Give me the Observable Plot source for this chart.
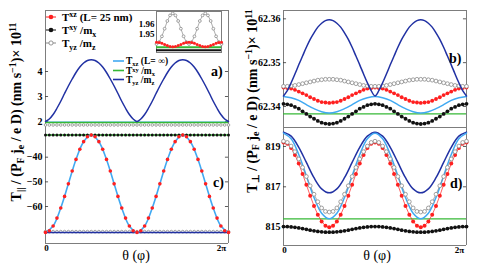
<!DOCTYPE html>
<html><head><meta charset="utf-8">
<script src="https://cdn.jsdelivr.net/npm/d3@7"></script>
<script src="https://cdn.jsdelivr.net/npm/@observablehq/plot@0.6"></script>
<style>body{margin:0;background:#fff}#chart{position:relative;width:485px;height:269px;overflow:hidden}#chart svg{position:absolute;left:0;top:0}</style>
</head><body><div id="chart"></div>
<script>
// angle grids (degrees, 0..2π)
const theta49 = [0,7.5,15,22.5,30,37.5,45,52.5,60,67.5,75,82.5,90,97.5,105,112.5,120,127.5,135,142.5,150,157.5,165,172.5,180,187.5,195,202.5,210,217.5,225,232.5,240,247.5,255,262.5,270,277.5,285,292.5,300,307.5,315,322.5,330,337.5,345,352.5,360];
const theta25 = [0,15,30,45,60,75,90,105,120,135,150,165,180,195,210,225,240,255,270,285,300,315,330,345,360];

// panel a) (T_parallel, upper part)
const aDomain = [1.72, 6.44];
const aTicks = [2,3,4];
const aTickLabels = ["2","3","4"];
const aDarkBlue = [2.00,2.10,2.28,2.53,2.81,3.12,3.42,3.70,3.96,4.18,4.34,4.44,4.47,4.44,4.34,4.18,3.96,3.70,3.42,3.12,2.81,2.53,2.28,2.10,2.00,2.10,2.28,2.53,2.81,3.12,3.42,3.70,3.96,4.18,4.34,4.44,4.47,4.44,4.34,4.18,3.96,3.70,3.42,3.12,2.81,2.53,2.28,2.10,2.00];
const aLightBlue = [1.97];
const aGreen = [1.96];
const aGrey = [1.86,1.86,1.86,1.86,1.86,1.86,1.86,1.86,1.86,1.86,1.86,1.86,1.86,1.86,1.86,1.86,1.86,1.86,1.86,1.86,1.86,1.86,1.86,1.86,1.86,1.86,1.86,1.86,1.86,1.86,1.86,1.86,1.86,1.86,1.86,1.86,1.86,1.86,1.86,1.86,1.86,1.86,1.86,1.86,1.86,1.86,1.86,1.86,1.86];

// inset of a)
const inDomain = [1.9299, 1.9740];
const inTicks = [1.95, 1.96];
const inTickLabels = ["1.95","1.96"];
const inGrey = [1.9390,1.9412,1.9473,1.9555,1.9638,1.9698,1.9720,1.9698,1.9638,1.9555,1.9473,1.9412,1.9390,1.9412,1.9473,1.9555,1.9638,1.9698,1.9720,1.9698,1.9638,1.9555,1.9473,1.9412,1.9390];
const inRed = [1.9410,1.9407,1.9398,1.9385,1.9373,1.9363,1.9360,1.9363,1.9373,1.9385,1.9398,1.9407,1.9410,1.9407,1.9398,1.9385,1.9373,1.9363,1.9360,1.9363,1.9373,1.9385,1.9398,1.9407,1.9410];
const inGreen = [1.9356];
const inBlack = [1.9322];

// panel c) (T_parallel, lower part)
const cDomain = [-75.0, -28.36];
const cTicks = [-60,-50,-40];
const cTickLabels = ["\u221260","\u221250","\u221240"];
const cLightBlue = [-70.5,-67.9,-60.6,-50.8,-40.9,-33.7,-31.0,-33.7,-40.9,-50.8,-60.6,-67.9,-70.5,-67.9,-60.6,-50.8,-40.9,-33.7,-31.0,-33.7,-40.9,-50.8,-60.6,-67.9,-70.5];
const cRed = [-70.5,-69.8,-67.9,-64.7,-60.6,-55.9,-50.8,-45.6,-40.9,-36.8,-33.7,-31.7,-31.0,-31.7,-33.7,-36.8,-40.9,-45.6,-50.8,-55.9,-60.6,-64.7,-67.9,-69.8,-70.5,-69.8,-67.9,-64.7,-60.6,-55.9,-50.8,-45.6,-40.9,-36.8,-33.7,-31.7,-31.0,-31.7,-33.7,-36.8,-40.9,-45.6,-50.8,-55.9,-60.6,-64.7,-67.9,-69.8,-70.5];
const cGreen = [-31.0];
const cBlack = [-31.0,-31.0,-31.0,-31.0,-31.0,-31.0,-31.0,-31.0,-31.0,-31.0,-31.0,-31.0,-31.0,-31.0,-31.0,-31.0,-31.0,-31.0,-31.0,-31.0,-31.0,-31.0,-31.0,-31.0,-31.0,-31.0,-31.0,-31.0,-31.0,-31.0,-31.0,-31.0,-31.0,-31.0,-31.0,-31.0,-31.0,-31.0,-31.0,-31.0,-31.0,-31.0,-31.0,-31.0,-31.0,-31.0,-31.0,-31.0,-31.0];
const cDarkBlue = [-70.5];
const cGrey = [-70.2,-70.2,-70.2,-70.2,-70.2,-70.2,-70.2,-70.2,-70.2,-70.2,-70.2,-70.2,-70.2,-70.2,-70.2,-70.2,-70.2,-70.2,-70.2,-70.2,-70.2,-70.2,-70.2,-70.2,-70.2,-70.2,-70.2,-70.2,-70.2,-70.2,-70.2,-70.2,-70.2,-70.2,-70.2,-70.2,-70.2,-70.2,-70.2,-70.2,-70.2,-70.2,-70.2,-70.2,-70.2,-70.2,-70.2,-70.2,-70.2];

// panel b) (T_perp, upper part)
const bDomain = [62.3352, 62.3619];
const bTicks = [62.34, 62.35, 62.36];
const bTickLabels = ["62.34","62.35","62.36"];
const bDarkBlue = [62.3424,62.3436,62.3454,62.3474,62.3495,62.3515,62.3535,62.3553,62.3568,62.3581,62.3590,62.3596,62.3598,62.3596,62.3590,62.3581,62.3568,62.3553,62.3535,62.3515,62.3495,62.3474,62.3454,62.3436,62.3424,62.3436,62.3454,62.3474,62.3495,62.3515,62.3535,62.3553,62.3568,62.3581,62.3590,62.3596,62.3598,62.3596,62.3590,62.3581,62.3568,62.3553,62.3535,62.3515,62.3495,62.3474,62.3454,62.3436,62.3424];
const bGrey = [62.3446,62.3446,62.3447,62.3448,62.3450,62.3452,62.3454,62.3456,62.3458,62.3460,62.3461,62.3462,62.3462,62.3462,62.3461,62.3460,62.3458,62.3456,62.3454,62.3452,62.3450,62.3448,62.3447,62.3446,62.3446,62.3446,62.3447,62.3448,62.3450,62.3452,62.3454,62.3456,62.3458,62.3460,62.3461,62.3462,62.3462,62.3462,62.3461,62.3460,62.3458,62.3456,62.3454,62.3452,62.3450,62.3448,62.3447,62.3446,62.3446];
const bRed = [62.3443,62.3442,62.3441,62.3438,62.3434,62.3430,62.3426,62.3421,62.3417,62.3413,62.3410,62.3409,62.3408,62.3409,62.3410,62.3413,62.3417,62.3421,62.3426,62.3430,62.3434,62.3438,62.3441,62.3442,62.3443,62.3442,62.3441,62.3438,62.3434,62.3430,62.3426,62.3421,62.3417,62.3413,62.3410,62.3409,62.3408,62.3409,62.3410,62.3413,62.3417,62.3421,62.3426,62.3430,62.3434,62.3438,62.3441,62.3442,62.3443];
const bLightBlue = [62.3423,62.3420,62.3414,62.3404,62.3395,62.3388,62.3385,62.3388,62.3395,62.3404,62.3414,62.3420,62.3423,62.3420,62.3414,62.3404,62.3395,62.3388,62.3385,62.3388,62.3395,62.3404,62.3414,62.3420,62.3423];
const bGreen = [62.3383];
const bBlack = [62.3406,62.3405,62.3403,62.3399,62.3395,62.3389,62.3383,62.3377,62.3372,62.3367,62.3363,62.3361,62.3360,62.3361,62.3363,62.3367,62.3372,62.3377,62.3383,62.3389,62.3395,62.3399,62.3403,62.3405,62.3406,62.3405,62.3403,62.3399,62.3395,62.3389,62.3383,62.3377,62.3372,62.3367,62.3363,62.3361,62.3360,62.3361,62.3363,62.3367,62.3372,62.3377,62.3383,62.3389,62.3395,62.3399,62.3403,62.3405,62.3406];

// panel d) (T_perp, lower part)
const dDomain = [814.09, 819.94];
const dTicks = [815, 817, 819];
const dTickLabels = ["815","817","819"];
const dDarkBlue = [819.71,819.51,818.96,818.21,817.45,816.90,816.70,816.90,817.45,818.21,818.96,819.51,819.71,819.51,818.96,818.21,817.45,816.90,816.70,816.90,817.45,818.21,818.96,819.51,819.71];
const dLightBlue = [819.66,819.38,818.60,817.54,816.47,815.69,815.41,815.69,816.47,817.54,818.60,819.38,819.66,819.38,818.60,817.54,816.47,815.69,815.41,815.69,816.47,817.54,818.60,819.38,819.66];
const dGrey = [819.26,819.20,819.02,818.74,818.38,817.96,817.51,817.05,816.63,816.26,815.95,815.78,815.75,815.78,815.95,816.26,816.63,817.05,817.51,817.96,818.38,818.74,819.02,819.20,819.26,819.20,819.02,818.74,818.38,817.96,817.51,817.05,816.63,816.26,815.95,815.78,815.75,815.78,815.95,816.26,816.63,817.05,817.51,817.96,818.38,818.74,819.02,819.20,819.26];
const dRed = [819.20,819.13,818.92,818.58,818.15,817.64,817.10,816.56,816.05,815.62,815.28,815.07,815.00,815.07,815.28,815.62,816.05,816.56,817.10,817.64,818.15,818.58,818.92,819.13,819.20,819.13,818.92,818.58,818.15,817.64,817.10,816.56,816.05,815.62,815.28,815.07,815.00,815.07,815.28,815.62,816.05,816.56,817.10,817.64,818.15,818.58,818.92,819.13,819.20];
const dGreen = [815.41];
const dBlack = [815.03,815.03,815.01,814.99,814.96,814.93,814.89,814.85,814.82,814.79,814.77,814.75,814.75,814.75,814.77,814.79,814.82,814.85,814.89,814.93,814.96,814.99,815.01,815.03,815.03,815.03,815.01,814.99,814.96,814.93,814.89,814.85,814.82,814.79,814.77,814.75,814.75,814.75,814.77,814.79,814.82,814.85,814.89,814.93,814.96,814.99,815.01,815.03,815.03];

const xTickValues = [0, 360];
const xTickLabels = ["0", "2\u03c0"];

const C = {dark:"#2131a3", light:"#40a9f2", green:"#36b836", red:"#ff1f1f", grey:"#8a8a8a", black:"#111", frame:"#7d7d7d"};
const FONT = "Liberation Serif, Times New Roman, serif";
const chart = document.getElementById("chart");

function panel(box, domain, marks) {
  const svg = Plot.plot({
    width: 485, height: 269,
    marginLeft: box[0], marginRight: 485 - box[1], marginTop: box[2], marginBottom: 269 - box[3],
    x: {domain: [0, 360], axis: null},
    y: {domain},
    style: {background: "transparent", fontFamily: FONT, fontSize: "10px", fontWeight: "bold", overflow: "visible", color: "#000"},
    marks
  });
  chart.append(svg);
}
// tick labels just outside the frame, short tick marks inside both sides of the frame
function yAxis(ticks, labels, size) {
  return [
    Plot.axisY({ticks, tickFormat: d => labels[ticks.indexOf(d)], tickSize: 0, tickPadding: 3, label: null, fontSize: size || 10, fontWeight: "bold", fontFamily: FONT}),
    Plot.ruleY(ticks, {x1: xTickValues[0], x2: 6, stroke: "#333", strokeWidth: 0.8}),
    Plot.ruleY(ticks, {x1: 354, x2: xTickValues[1], stroke: "#333", strokeWidth: 0.8})
  ];
}
function xTicks(dx2) {
  return [
    Plot.text([xTickValues[0]], {x: d => d, text: () => xTickLabels[0], frameAnchor: "bottom", lineAnchor: "top", dy: 1, dx: 1, fontSize: 9, fontWeight: "bold", fontFamily: FONT}),
    Plot.text([xTickValues[1]], {x: d => d, text: () => xTickLabels[1], frameAnchor: "bottom", lineAnchor: "top", dy: 1, dx: dx2, fontSize: 9, fontWeight: "bold", fontFamily: FONT})
  ];
}
const openDot = (arr, xs, r) => Plot.dot(arr, {x: xs, y: arr, r: r, fill: "white", stroke: C.grey, strokeWidth: 0.8});
const fillDot = (arr, xs, r, col) => Plot.dot(arr, {x: xs, y: arr, r: r, fill: col, stroke: "none"});
const thin = (arr, xs, col) => Plot.line(arr, {x: xs, y: arr, stroke: col, strokeWidth: 0.7});

// panel a
panel([45, 228, 10, 128], aDomain, [
  Plot.ruleX(xTickValues, {stroke: C.frame}),
  Plot.ruleY([aDomain[1]], {stroke: C.frame}),
  ...yAxis(aTicks, aTickLabels),
  openDot(aGrey, theta49, 1.3),
  Plot.ruleY(aLightBlue, {stroke: C.light, strokeWidth: 1.4}),
  Plot.ruleY(aGreen, {stroke: C.green, strokeWidth: 1.6}),
  Plot.line(aDarkBlue, {x: theta49, y: aDarkBlue, stroke: C.dark, strokeWidth: 1.5, curve: "catmull-rom"})
]);
// panel c
panel([45, 228, 128, 243], cDomain, [
  Plot.ruleX(xTickValues, {stroke: C.frame}),
  Plot.ruleY([cDomain[0]], {stroke: C.frame}),
  ...yAxis(cTicks, cTickLabels),
  ...xTicks(-7),
  Plot.ruleY(cGreen, {stroke: C.green, strokeWidth: 1.6}),
  fillDot(cBlack, theta49, 1.5, C.black),
  openDot(cGrey, theta49, 1.4),
  Plot.ruleY(cDarkBlue, {stroke: C.dark, strokeWidth: 1.5}),
  Plot.line(cLightBlue, {x: theta25, y: cLightBlue, stroke: C.light, strokeWidth: 1.6, curve: "catmull-rom"}),
  fillDot(cRed, theta49, 1.8, C.red)
]);
// inset of a
panel([156, 221, 11, 52], inDomain, [
  Plot.frame({fill: "white", stroke: C.frame}),
  Plot.axisY({ticks: inTicks, tickFormat: d => inTickLabels[inTicks.indexOf(d)], tickSize: 0, tickPadding: 2, label: null, fontSize: 9, fontWeight: "bold", fontFamily: FONT}),
  Plot.ruleY(inBlack, {stroke: C.black, strokeWidth: 2}),
  Plot.ruleY(inGreen, {stroke: C.green, strokeWidth: 2}),
  thin(inGrey, theta25, C.grey),
  openDot(inGrey, theta25, 1.4),
  fillDot(inRed, theta25, 1.5, C.red)
]);
// panel b
panel([283, 466, 10, 127], bDomain, [
  Plot.frame({stroke: C.frame}),
  ...yAxis(bTicks, bTickLabels),
  Plot.ruleY(bGreen, {stroke: C.green, strokeWidth: 1.4}),
  Plot.line(bLightBlue, {x: theta25, y: bLightBlue, stroke: C.light, strokeWidth: 1.5, curve: "catmull-rom"}),
  thin(bBlack, theta49, C.black),
  fillDot(bBlack, theta49, 1.9, C.black),
  thin(bRed, theta49, C.red),
  fillDot(bRed, theta49, 1.9, C.red),
  thin(bGrey, theta49, C.grey),
  openDot(bGrey, theta49, 1.9),
  Plot.line(bDarkBlue, {x: theta49, y: bDarkBlue, stroke: C.dark, strokeWidth: 1.5, curve: "catmull-rom"})
]);
// panel d
panel([283, 466, 127, 245], dDomain, [
  Plot.ruleX(xTickValues, {stroke: C.frame}),
  Plot.ruleY([dDomain[0]], {stroke: C.frame}),
  ...yAxis(dTicks, dTickLabels),
  ...xTicks(-7),
  Plot.ruleY(dGreen, {stroke: C.green, strokeWidth: 1.4}),
  thin(dBlack, theta49, C.black),
  fillDot(dBlack, theta49, 1.9, C.black),
  Plot.line(dDarkBlue, {x: theta25, y: dDarkBlue, stroke: C.dark, strokeWidth: 1.5, curve: "catmull-rom"}),
  thin(dRed, theta49, C.red),
  fillDot(dRed, theta49, 2.0, C.red),
  Plot.line(dLightBlue, {x: theta25, y: dLightBlue, stroke: C.light, strokeWidth: 1.5, curve: "catmull-rom"}),
  thin(dGrey, theta49, C.grey),
  openDot(dGrey, theta49, 1.9)
]);

// texts: axis titles, legends, panel labels
const ov = `
<svg width="485" height="269" xmlns="http://www.w3.org/2000/svg" font-family="${FONT}" font-weight="bold" fill="#000">
  <text transform="translate(21,112) rotate(-90)" text-anchor="middle" font-size="14">T<tspan dy="3" font-size="10">||</tspan><tspan dy="-3"> / (P</tspan><tspan dy="3" font-size="10">F</tspan><tspan dy="-3"> j</tspan><tspan dy="3" font-size="10">e</tspan><tspan dy="-3"> / e D) (nm s</tspan><tspan dy="-5" font-size="10">\u22121</tspan><tspan dy="5">)\u00d7 10</tspan><tspan dy="-5" font-size="10">11</tspan></text>
  <text transform="translate(257,101) rotate(-90)" text-anchor="middle" font-size="14">T<tspan dy="2" font-size="10">\u22a5</tspan><tspan dy="-2"> / (P</tspan><tspan dy="2" font-size="10">F</tspan><tspan dy="-2"> j</tspan><tspan dy="2" font-size="10">e</tspan><tspan dy="-2"> / e D) (nm s</tspan><tspan dy="-5" font-size="10">\u22121</tspan><tspan dy="5">)\u00d7 10</tspan><tspan dy="-5" font-size="10">11</tspan></text>

  <text x="136" y="260" text-anchor="middle" font-size="14" font-weight="normal">\u03b8 (\u03c6)</text>
  <text x="377" y="260" text-anchor="middle" font-size="14" font-weight="normal">\u03b8 (\u03c6)</text>

  <text x="211" y="76" font-size="14">a)</text>
  <text x="449" y="63" font-size="14">b)</text>
  <text x="213" y="187" font-size="14">c)</text>
  <text x="450" y="188" font-size="14">d)</text>

  <line x1="46" x2="56" y1="17" y2="17" stroke="${C.red}" stroke-width="1"/><circle cx="51" cy="17" r="2.3" fill="${C.red}"/>
  <text x="62" y="21" font-size="11">T<tspan dy="-4" font-size="8">xz</tspan><tspan dy="4"> (L= 25 nm)</tspan></text>
  <line x1="46" x2="56" y1="30" y2="30" stroke="${C.black}" stroke-width="1"/><circle cx="51" cy="30" r="2.3" fill="${C.black}"/>
  <text x="62" y="34" font-size="11">T<tspan dy="-4" font-size="8">xy</tspan><tspan dy="4"> /m</tspan><tspan dy="3" font-size="8">x</tspan></text>
  <line x1="46" x2="56" y1="43" y2="43" stroke="${C.grey}" stroke-width="1"/><circle cx="51" cy="43" r="2.1" fill="white" stroke="${C.grey}" stroke-width="0.9"/>
  <text x="62" y="47" font-size="11">T<tspan dy="3" font-size="8">yz</tspan><tspan dy="-3"> /m</tspan><tspan dy="3" font-size="8">z</tspan></text>

  <line x1="113" x2="124" y1="61" y2="61" stroke="${C.light}" stroke-width="1.6"/>
  <text x="126" y="64" font-size="9.5">T<tspan dy="1.5" font-size="6.5">xz</tspan><tspan dy="-1.5"> (L= \u221e)</tspan></text>
  <line x1="113" x2="124" y1="70.5" y2="70.5" stroke="${C.green}" stroke-width="1.6"/>
  <text x="126" y="74" font-size="9.5">T<tspan dy="-2.5" font-size="6.5">xy</tspan><tspan dy="2.5"> /m</tspan><tspan dy="1.5" font-size="6.5">x</tspan></text>
  <line x1="113" x2="124" y1="79.5" y2="79.5" stroke="${C.dark}" stroke-width="1.6"/>
  <text x="126" y="83" font-size="9.5">T<tspan dy="1.5" font-size="6.5">yz</tspan><tspan dy="-1.5"> /m</tspan><tspan dy="1.5" font-size="6.5">z</tspan></text>
</svg>`;
chart.insertAdjacentHTML("beforeend", ov);
</script>
</body></html>
